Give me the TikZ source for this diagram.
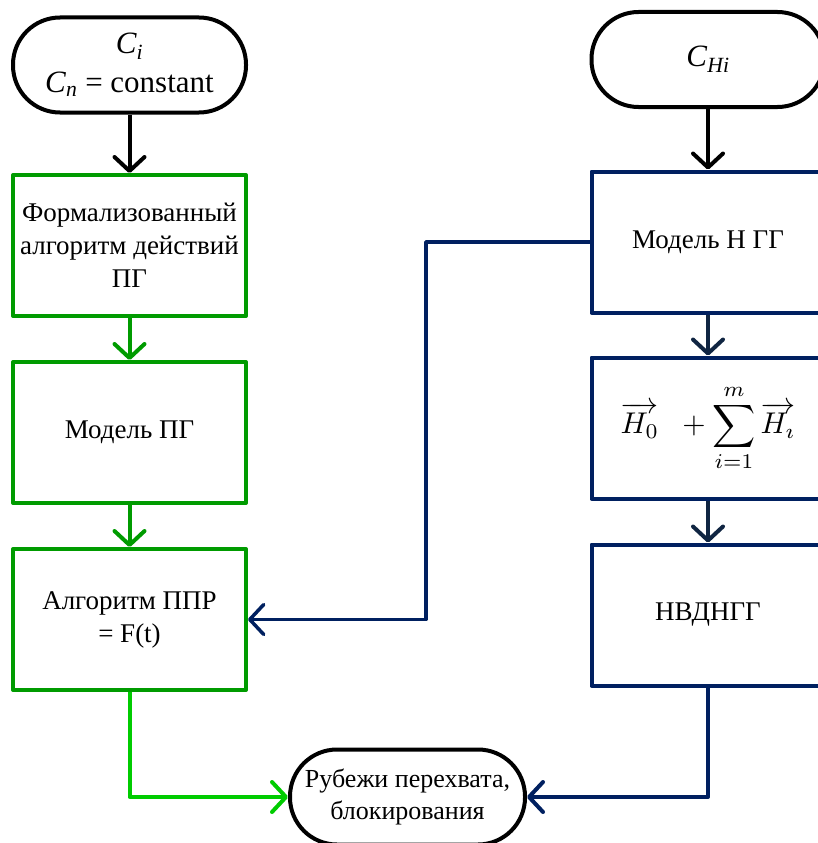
\documentclass[tikz,border=0pt]{standalone}
\usepackage{amsmath}
\usepackage{graphicx}
\usepackage{fontspec}
\setmainfont{Liberation Serif}
\usetikzlibrary{arrows.meta,calc}

\definecolor{pggreen}{RGB}{0,155,0}
\definecolor{lightgreen}{RGB}{0,204,0}
\definecolor{nggblue}{RGB}{0,32,96}
\definecolor{darkblue}{RGB}{16,37,66}

\begin{document}
\begin{tikzpicture}[x=1pt,y=-1pt,>={Straight Barb[length=14pt,width=30pt,round]},line join=round]
 \tikzstyle{every node}=[font=\fontsize{27}{33}\selectfont,align=center,inner sep=0pt]
 \tikzstyle{terminal}=[draw=black,line width=4pt,rectangle,rounded corners=47pt,minimum width=233pt,minimum height=95pt]
 \tikzstyle{pgbox}=[draw=pggreen,line width=4pt,rectangle,minimum width=233pt,minimum height=141pt]
 \tikzstyle{nggbox}=[draw=nggblue,line width=4pt,rectangle,minimum width=233pt,minimum height=141pt]
 \useasboundingbox (0,0) rectangle (817,843);

 \node (Ci) at (129.5,65) [terminal,font=\fontsize{31}{39}\selectfont]
   {\textit{C}\textsubscript{\textit{i}}\\ \textit{C}\textsubscript{\textit{n}} = constant};
 \node (formal) at (129.5,245.5) [pgbox] {Формализованный\\алгоритм действий\\ПГ};
 \node (modelPG) at (129.5,432.5) [pgbox] {Модель ПГ};
 \node (algPPR) at (129.5,619.5) [pgbox] {Алгоритм ППР\\= F(t)};

 \node (CHi) at (708,59.5) [terminal,font=\fontsize{31}{39}\selectfont]
   {\textit{C}\textsubscript{\textit{Hi}}};
 \node (modelNGG) at (708,242) [nggbox] {Модель Н ГГ};
 \node (sumH) at (708,428) [nggbox,font=\normalsize]
   {\scalebox{3}{$\displaystyle\overrightarrow{H_0}\;\;+\sum\limits_{i=1}^{m}\overrightarrow{H_\imath}$}};
 \node (NVDNGG) at (708,615) [nggbox] {НВДНГГ};

 \node (rubezh) at (407.5,797) [terminal,minimum width=235pt,font=\fontsize{26}{32}\selectfont]
   {Рубежи перехвата,\\блокирования};

 \coordinate (turn) at (426,242); %vertical blue line

 \draw [->,line width=4pt] (Ci) -- (formal);
 \draw [->,line width=4pt,draw=pggreen] (formal) -- (modelPG);
 \draw [->,line width=4pt,draw=pggreen] (modelPG) -- (algPPR);
 \draw [->,line width=4pt] (CHi) -- (modelNGG);
 \draw [->,line width=4pt,draw=darkblue] (modelNGG) -- (sumH);
 \draw [->,line width=4pt,draw=darkblue] (sumH) -- (NVDNGG);
 \draw [->,line width=3.5pt,draw=nggblue] (modelNGG.west) -- (turn) |- (algPPR.east);
 \draw [->,line width=4pt,draw=lightgreen] (algPPR.south) |- (rubezh.west);
 \draw [->,line width=4pt,draw=nggblue] (NVDNGG.south) |- (rubezh.east);
\end{tikzpicture}
\end{document}
